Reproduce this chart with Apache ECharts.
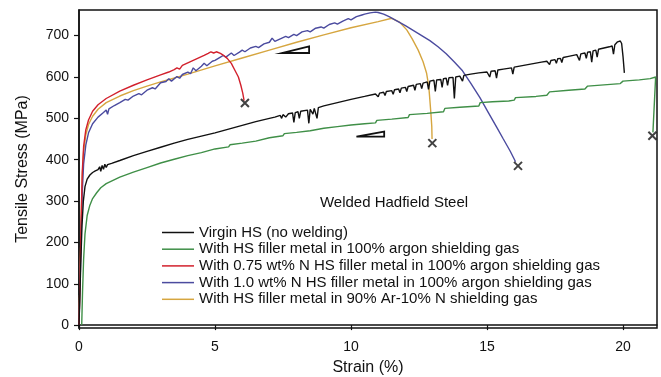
<!DOCTYPE html>
<html>
<head>
<meta charset="utf-8">
<script src="https://cdn.jsdelivr.net/npm/echarts@6/dist/echarts.min.js"></script>
<style>html,body{margin:0;padding:0;background:#fff}#c{width:661px;height:377px}</style>
</head>
<body>
<div id="c"></div>
<script>
const seriesNames = [
  "Virgin HS (no welding)",
  "With HS filler metal in 100% argon shielding gas",
  "With 0.75 wt% N HS filler metal in 100% argon shielding gas",
  "With 1.0 wt% N HS filler metal in 100% argon shielding gas",
  "With HS filler metal in 90% Ar-10% N shielding gas"
];
const xTicks = [0, 5, 10, 15, 20];
const yTicks = [0, 100, 200, 300, 400, 500, 600, 700];

const virgin = [[0,0],[0.03,70],[0.07,160],[0.11,240],[0.16,300],[0.22,335],[0.3,353],[0.4,363],[0.5,369],[0.6,373],[0.7,376],[0.76,383],[0.8,372],[0.85,386],[0.9,377],[0.95,389],[1.0,381],[1.05,388],[1.2,391],[1.5,398],[2,410],[2.5,420],[3,430],[3.5,440],[4,449],[4.5,457],[5,465],[5.5,474],[6,483],[6.5,492],[7,500],[7.2,503],[7.4,507],[7.45,500],[7.5,509],[7.6,503],[7.7,511],[7.85,513],[7.9,490],[7.95,514],[8.05,516],[8.1,500],[8.15,517],[8.4,520],[8.45,488],[8.5,522],[8.6,510],[8.65,524],[8.75,500],[8.8,526],[9,530],[9.5,538],[10,546],[10.5,553],[10.9,559],[11.0,552],[11.05,561],[11.2,563],[11.25,555],[11.3,565],[11.5,567],[11.55,558],[11.6,569],[11.75,571],[11.8,562],[11.85,573],[12.0,575],[12.05,565],[12.1,577],[12.3,580],[12.35,568],[12.4,582],[12.55,584],[12.6,572],[12.65,585],[12.8,588],[12.85,570],[12.9,590],[13.05,592],[13.1,565],[13.15,593],[13.3,594],[13.35,575],[13.4,596],[13.5,597],[13.55,580],[13.6,598],[13.75,599],[13.8,548],[13.85,600],[14.0,602],[14.1,590],[14.15,604],[14.4,607],[14.7,610],[15.0,612],[15.1,600],[15.15,614],[15.3,615],[15.35,597],[15.4,617],[15.6,619],[15.9,622],[15.95,607],[16.0,624],[16.5,630],[17.0,636],[17.2,638],[17.3,630],[17.35,640],[17.5,642],[17.55,633],[17.6,644],[17.7,645],[17.75,635],[17.8,647],[18.0,650],[18.3,654],[18.4,640],[18.45,656],[18.6,658],[18.65,645],[18.7,660],[18.8,661],[18.85,636],[18.9,663],[19.0,665],[19.05,648],[19.1,667],[19.3,670],[19.5,673],[19.6,675],[19.65,655],[19.7,678],[19.8,685],[19.9,687],[19.95,681],[20.0,650],[20.05,610]];

const hsArgon = [[0.1,0],[0.13,80],[0.17,160],[0.22,220],[0.3,265],[0.4,290],[0.5,306],[0.65,320],[0.8,332],[1.0,342],[1.5,358],[2,370],[2.5,381],[3,392],[3.5,401],[4,410],[4.5,417],[4.55,421],[5,426],[5.5,431],[5.55,436],[6,440],[6.5,445],[6.55,449],[7,453],[7.5,458],[7.55,463],[8,466],[8.5,470],[8.55,474],[9,476],[9.5,480],[10,484],[10.5,487],[10.9,489],[10.95,495],[11.5,498],[12.1,502],[12.15,509],[12.8,512],[13.4,516],[13.45,524],[14,527],[14.7,530],[14.75,538],[15.2,540],[15.8,542],[16.0,544],[16.05,550],[16.8,553],[17.2,556],[17.3,564],[18,568],[18.6,571],[18.7,578],[19.3,581],[19.9,584],[20.0,590],[20.6,593],[21.0,596],[21.2,600],[21.25,600],[21.1,466]];

const n075 = [[0,0],[0.04,120],[0.08,260],[0.12,370],[0.17,432],[0.25,472],[0.35,496],[0.5,517],[0.7,533],[1.0,548],[1.5,566],[2,580],[2.5,593],[3,605],[3.3,612],[3.5,618],[3.6,622],[3.7,619],[3.8,628],[4.0,634],[4.2,640],[4.4,646],[4.6,652],[4.75,657],[4.85,661],[4.95,658],[5.05,661],[5.2,657],[5.3,653],[5.45,645],[5.6,633],[5.75,614],[5.86,600],[5.95,580],[6.02,561],[6.07,543]];

const n10 = [[0,0],[0.04,100],[0.08,220],[0.12,320],[0.17,390],[0.25,435],[0.35,465],[0.5,487],[0.7,503],[0.9,514],[1.0,520],[1.05,510],[1.1,523],[1.3,531],[1.5,538],[1.7,546],[1.8,544],[2.0,554],[2.2,560],[2.3,557],[2.5,568],[2.7,574],[2.8,571],[3.0,586],[3.2,589],[3.3,596],[3.4,590],[3.6,601],[3.7,597],[3.8,606],[4.0,612],[4.1,608],[4.2,622],[4.3,615],[4.5,626],[4.6,633],[4.7,627],[4.9,638],[5.0,640],[5.2,648],[5.3,652],[5.4,648],[5.6,658],[5.7,652],[5.9,660],[6.0,665],[6.1,661],[6.3,670],[6.5,674],[6.6,671],[6.8,680],[7.0,684],[7.1,694],[7.2,686],[7.4,692],[7.6,698],[7.7,695],[7.9,703],[8.0,700],[8.2,709],[8.4,712],[8.5,709],[8.7,718],[8.9,721],[9.0,718],[9.2,727],[9.4,731],[9.5,728],[9.7,735],[9.9,741],[10.0,738],[10.2,746],[10.4,750],[10.5,752],[10.7,755],[10.9,757],[11.0,756],[11.2,752],[11.4,746],[11.7,735],[12.0,724],[12.3,712],[12.6,700],[12.9,688],[13.2,673],[13.5,656],[13.8,636],[14.1,615],[14.4,585],[14.74,550],[15.05,514],[15.36,478],[15.6,450],[15.85,421],[16.05,395]];

const arN = [[0,0],[0.04,120],[0.08,250],[0.12,360],[0.17,420],[0.25,460],[0.35,485],[0.5,505],[0.7,522],[1.0,538],[1.5,554],[2,567],[2.5,578],[3,588],[4,607],[5,627],[6,646],[7,665],[8,684],[9,702],[10,719],[11,734],[11.5,742],[11.8,732],[12.05,714],[12.25,692],[12.47,665],[12.65,637],[12.78,609],[12.86,577],[12.9,544],[12.94,510],[12.97,480],[12.98,450]];

const fractures = [[6.1,537],[12.99,440],[16.14,385],[21.08,458]];
const slopeMarks = [
  [[7.46,658],[8.46,658],[8.46,674]],
  [[10.2,456],[11.22,456],[11.22,468]]
];
const colors = ['#111111', '#3f8f47', '#d2202c', '#4b4b9f', '#d6a640'];
const datasets = [virgin, hsArgon, n075, n10, arN];

const FONT = 'Liberation Sans, Arial, sans-serif';
const chart = echarts.init(document.getElementById('c'), null, {renderer: 'canvas'});

const series = datasets.map((d, i) => ({
  name: seriesNames[i],
  type: 'line',
  data: d,
  showSymbol: false,
  symbol: 'none',
  animation: false,
  lineStyle: {color: colors[i], width: 1.4},
  itemStyle: {color: colors[i]},
  z: 5 - i + 2
}));
series.push({
  type: 'scatter',
  data: fractures,
  symbol: 'path://M0,0L10,10M10,0L0,10',
  symbolSize: 8,
  itemStyle: {color: 'none', borderColor: '#111', borderWidth: 2},
  animation: false,
  z: 10
});

chart.setOption({
  animation: false,
  grid: {left: 79, right: 4, top: 10, bottom: 49, show: true, borderColor: '#111', borderWidth: 1.5, containLabel: false, outerBoundsMode: 'none'},
  xAxis: {
    type: 'value', min: 0, max: 21.25,
    name: 'Strain (%)', nameLocation: 'middle', nameGap: 32,
    nameTextStyle: {fontSize: 16, color: '#111', fontFamily: FONT},
    axisLine: {lineStyle: {color: '#111', width: 1.5}},
    axisTick: {show: true, length: 5, lineStyle: {color: '#111', width: 1.2}, customValues: xTicks},
    axisLabel: {fontSize: 14, color: '#111', fontFamily: FONT, margin: 12, customValues: xTicks},
    splitLine: {show: false}
  },
  yAxis: {
    type: 'value', min: -7, max: 762,
    name: 'Tensile Stress (MPa)', nameLocation: 'middle', nameGap: 48,
    nameTextStyle: {fontSize: 16, color: '#111', fontFamily: FONT},
    axisLine: {show: true, lineStyle: {color: '#111', width: 1.5}},
    axisTick: {show: true, length: 5, lineStyle: {color: '#111', width: 1.2}, customValues: yTicks},
    axisLabel: {fontSize: 14, color: '#111', fontFamily: FONT, margin: 10, customValues: yTicks},
    splitLine: {show: false}
  },
  legend: {
    data: seriesNames.map((n, i) => ({name: n, icon: 'rect', itemStyle: {color: colors[i]}})),
    orient: 'vertical', left: 157, top: 220,
    itemWidth: 32, itemHeight: 1.5, itemGap: 1.7,
    selectedMode: false,
    textStyle: {fontSize: 15, color: '#111', fontFamily: FONT, lineHeight: 14}
  },
  series: series
});

function buildGraphics() {
  const els = slopeMarks.map(tri => ({
    type: 'polygon',
    shape: {points: tri.map(p => chart.convertToPixel({gridIndex: 0}, p))},
    style: {fill: '#fff', stroke: '#111', lineWidth: 1.8},
    z: 20
  }));
  els.push({
    type: 'text',
    x: 394, y: 203,
    style: {text: 'Welded Hadfield Steel', fontSize: 15, fontFamily: FONT, fill: '#111', align: 'center', verticalAlign: 'middle'},
    z: 20
  });
  chart.setOption({graphic: els});
}
buildGraphics();
</script>
</body>
</html>
